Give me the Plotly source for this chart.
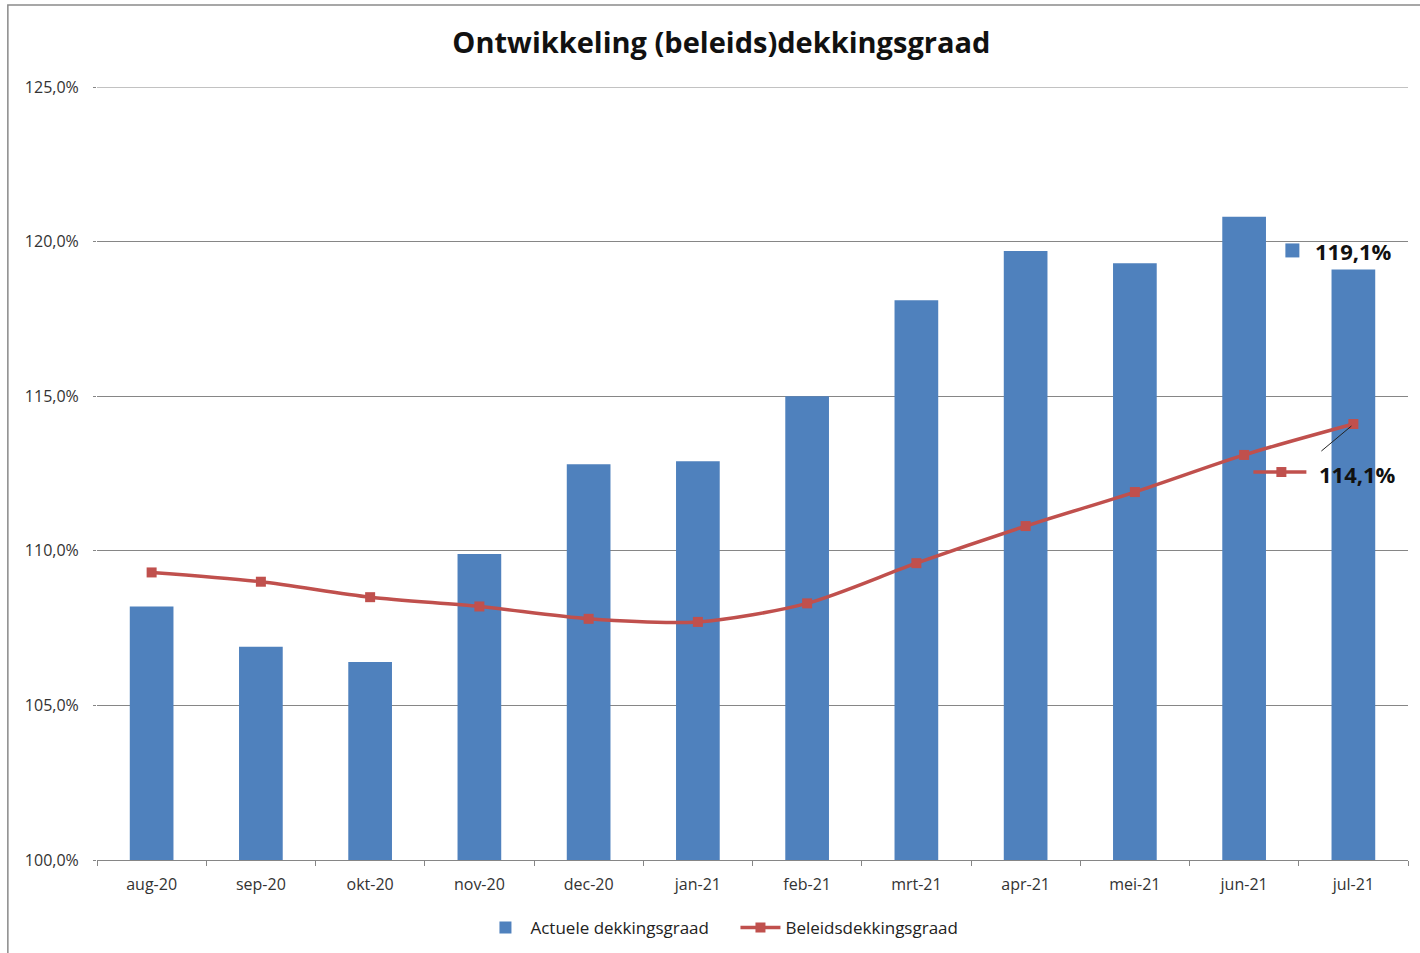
import plotly.graph_objects as go

months = ["aug-20", "sep-20", "okt-20", "nov-20", "dec-20", "jan-21",
          "feb-21", "mrt-21", "apr-21", "mei-21", "jun-21", "jul-21"]
actuele = [108.2, 106.9, 106.4, 109.9, 112.8, 112.9, 115.0, 118.1, 119.7, 119.3, 120.8, 119.1]
beleids = [109.3, 109.0, 108.5, 108.2, 107.8, 107.7, 108.3, 109.6, 110.8, 111.9, 113.1, 114.1]
y_ticks = [100, 105, 110, 115, 120, 125]
y_tick_labels = ["100,0%", "105,0%", "110,0%", "115,0%", "120,0%", "125,0%"]

BLUE = "#4F81BD"
RED = "#C0504D"
GRID = "#868686"
FONT = "Open Sans"

fig = go.Figure()
fig.add_trace(go.Bar(
    x=months, y=actuele, name="Actuele dekkingsgraad",
    marker=dict(color=BLUE, line=dict(width=0)),
))
fig.add_trace(go.Scatter(
    x=months, y=beleids, name="Beleidsdekkingsgraad", mode="lines+markers",
    line=dict(color=RED, width=3.5, shape="spline", smoothing=0.8),
    marker=dict(symbol="square", size=10, color=RED),
))

last = len(months) - 1
fmt = lambda v: f"{v:.1f}".replace(".", ",") + "%"

# data labels
fig.add_annotation(x=months[last], y=actuele[last], text=f"<b>{fmt(actuele[last])}</b>",
                   showarrow=False, xshift=0, yshift=18,
                   font=dict(family=FONT, size=22, color="#111"))
fig.add_annotation(x=months[last], y=beleids[last], text=f"<b>{fmt(beleids[last])}</b>",
                   showarrow=False, xshift=4, yshift=-50,
                   font=dict(family=FONT, size=22, color="#111"))

# legend keys next to labels and leader line
fig.add_shape(type="rect", xref="x", yref="y", xsizemode="pixel", ysizemode="pixel",
              xanchor=last, yanchor=actuele[last], x0=-68, x1=-54, y0=12, y1=26,
              fillcolor=BLUE, line=dict(width=0))
fig.add_shape(type="line", xref="x", yref="y", xsizemode="pixel", ysizemode="pixel",
              xanchor=last, yanchor=beleids[last], x0=-100, x1=-47, y0=-48, y1=-48,
              line=dict(color=RED, width=3.5))
fig.add_shape(type="rect", xref="x", yref="y", xsizemode="pixel", ysizemode="pixel",
              xanchor=last, yanchor=beleids[last], x0=-77, x1=-67, y0=-53, y1=-43,
              fillcolor=RED, line=dict(width=0))
fig.add_shape(type="line", xref="x", yref="y", xsizemode="pixel", ysizemode="pixel",
              xanchor=last, yanchor=beleids[last], x0=-32, x1=-2, y0=-27, y1=-2,
              line=dict(color="#222", width=1))

# top gridline (at the range edge)
fig.add_shape(type="line", xref="paper", yref="y", x0=0, x1=1,
              y0=y_ticks[-1], y1=y_ticks[-1], line=dict(color=GRID, width=1), layer="below")

# outer chart border
fig.add_shape(type="rect", xref="paper", yref="paper",
              x0=-0.068, x1=1.02, y0=-0.15, y1=1.106,
              line=dict(color="#8a8a8a", width=1.5), fillcolor="rgba(0,0,0,0)", layer="below")

fig.update_layout(
    width=1420, height=953,
    margin=dict(l=97, r=12, t=87, b=93, autoexpand=False),
    paper_bgcolor="white", plot_bgcolor="white",
    bargap=0.6,
    title=dict(text="<b>Ontwikkeling (beleids)dekkingsgraad</b>", x=0.508, xref="container",
               y=0.955, yref="container", xanchor="center", yanchor="middle",
               font=dict(family=FONT, size=29, color="#111")),
    font=dict(family=FONT, size=16, color="#333"),
    legend=dict(orientation="h", x=0.487, xanchor="center", y=-0.088, yanchor="middle",
                font=dict(family=FONT, size=17, color="#222"), traceorder="normal",
                itemwidth=40, entrywidth=200),
    showlegend=True,
)
fig.update_xaxes(
    type="category", range=[-0.5, len(months) - 0.5],
    showgrid=False, showline=True, linecolor=GRID, linewidth=1,
    ticks="outside", tickson="boundaries", ticklen=5, tickcolor=GRID,
    tickfont=dict(family=FONT, size=16, color="#333"), ticklabelstandoff=10, automargin=False,
)
fig.update_yaxes(
    range=[100, 125], tickvals=y_ticks, ticktext=y_tick_labels,
    showgrid=True, gridcolor=GRID, gridwidth=1, zeroline=False, showline=False,
    ticks="outside", ticklen=3, tickcolor=GRID,
    tickfont=dict(family=FONT, size=16, color="#333"), ticklabelstandoff=11, automargin=False,
)

fig.write_html("out.html", config={"displayModeBar": False},
               post_script="document.body.style.margin='0px';")
